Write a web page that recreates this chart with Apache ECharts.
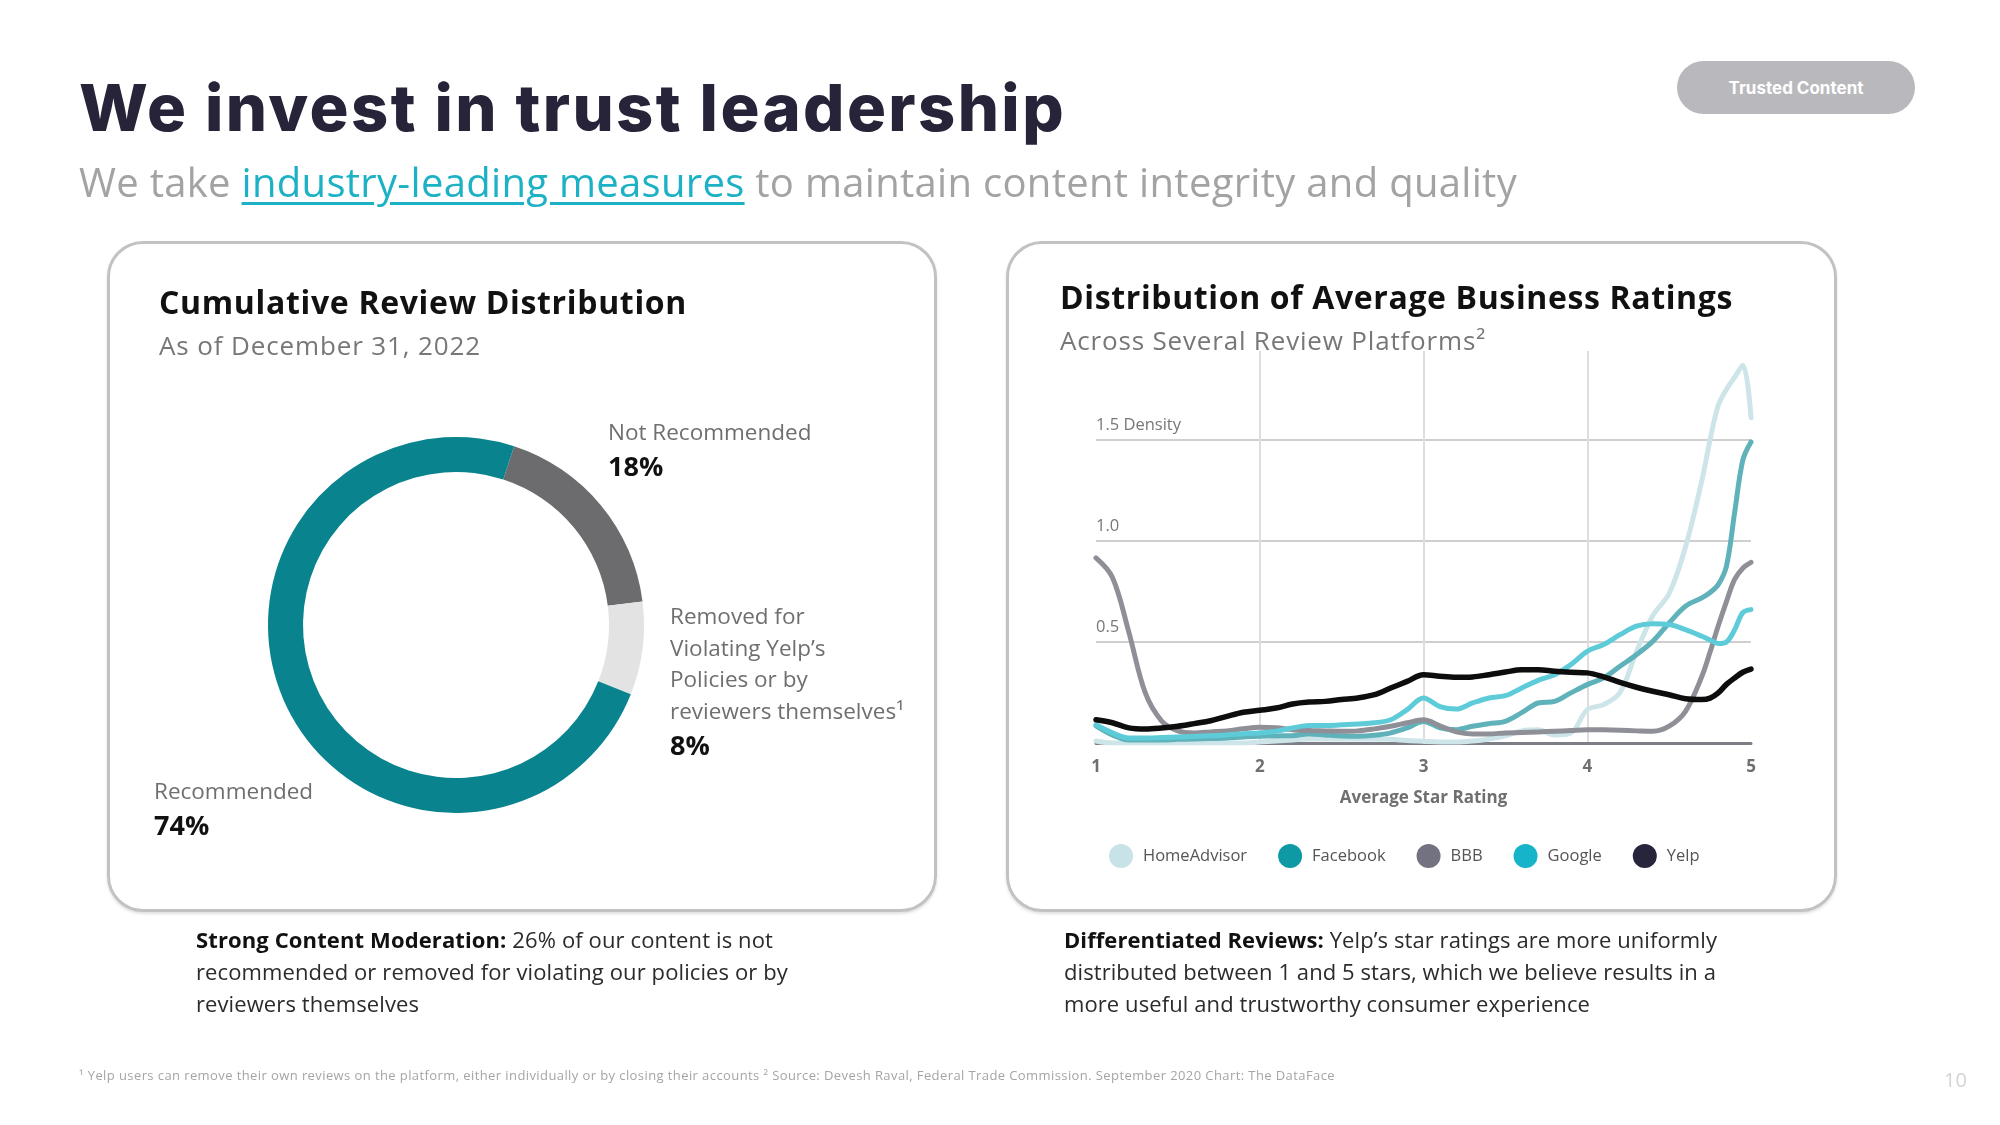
<!DOCTYPE html>
<html><head><meta charset="utf-8">
<script src="https://cdn.jsdelivr.net/npm/echarts@6/dist/echarts.min.js"></script>
<style>
html,body{margin:0;padding:0;background:#fff;}
#page{position:relative;width:2000px;height:1125px;overflow:hidden;font-family:'Open Sans',sans-serif;}
.abs{position:absolute;white-space:nowrap;z-index:2;}
.panel{position:absolute;border:3px solid #c2c2c2;border-radius:36px;box-sizing:border-box;box-shadow:0 2px 3px rgba(0,0,0,0.12);z-index:0;}
#chart{position:absolute;left:0;top:0;width:2000px;height:1125px;z-index:1;}
.cap{font-size:22px;line-height:22px;color:#2b2b2b;}
.cap b{font-weight:700;color:#111;}
</style></head>
<body><div id="page">
<div class="panel" style="left:107px;top:241px;width:830px;height:671px"></div>
<div class="panel" style="left:1006px;top:241px;width:831px;height:671px"></div>
<div id="chart"></div>

<div class="abs" data-w="987" style="left:79px;top:75px;font-family:Inter,sans-serif;font-weight:800;font-size:65px;line-height:65px;color:#27243a">We invest in trust leadership</div>
<div class="abs" data-w="1438" style="left:79px;top:162px;font-size:40px;line-height:40px;color:#a3a3a3">We take <span style="color:#1db1c5;text-decoration:underline;text-decoration-thickness:3px;text-underline-offset:5px">industry-leading measures</span> to maintain content integrity and quality</div>
<div class="abs" style="left:1677px;top:61px;width:238px;height:53px;border-radius:27px;background:#b9b9bd;color:#fff;font-family:Inter,sans-serif;font-weight:700;font-size:17px;display:flex;align-items:center;justify-content:center;z-index:2">Trusted Content</div>

<div class="abs" data-w="528" style="left:159px;top:286px;font-size:32px;line-height:32px;font-weight:700;color:#111">Cumulative Review Distribution</div>
<div class="abs" data-w="322" style="left:159px;top:332px;font-size:26px;line-height:26px;color:#777">As of December 31, 2022</div>
<div class="abs" data-w="673" style="left:1060px;top:281px;font-size:32px;line-height:32px;font-weight:700;color:#111">Distribution of Average Business Ratings</div>
<div class="abs" data-w="426" style="left:1060px;top:327px;font-size:26px;line-height:26px;color:#777">Across Several Review Platforms²</div>

<div class="abs cap" data-w="577" style="left:196px;top:928px"><b>Strong Content Moderation:</b> 26% of our content is not</div>
<div class="abs cap" data-w="592" style="left:196px;top:960px">recommended or removed for violating our policies or by</div>
<div class="abs cap" data-w="223" style="left:196px;top:992px">reviewers themselves</div>
<div class="abs cap" data-w="653" style="left:1064px;top:928px"><b>Differentiated Reviews:</b> Yelp’s star ratings are more uniformly</div>
<div class="abs cap" data-w="652" style="left:1064px;top:960px">distributed between 1 and 5 stars, which we believe results in a</div>
<div class="abs cap" data-w="526" style="left:1064px;top:992px">more useful and trustworthy consumer experience</div>

<div class="abs" data-w="1256" style="left:79px;top:1069px;font-size:13px;line-height:13px;color:#a5a5a5">¹ Yelp users can remove their own reviews on the platform, either individually or by closing their accounts ² Source: Devesh Raval, Federal Trade Commission. September 2020 Chart: The DataFace</div>
<div class="abs" style="left:1944px;top:1070px;font-size:20px;line-height:20px;color:#d3d3d3">10</div>
</div>
<script>
// ---- Donut data ----
const reviewCategories = ['Not Recommended', 'Removed for\nViolating Yelp’s\nPolicies or by\nreviewers themselves¹', 'Recommended'];
const reviewShares = [18, 8, 74];

// ---- Density data ----
const ratings = [1.0,1.1,1.2,1.3,1.4,1.5,1.6,1.7,1.8,1.9,2.0,2.1,2.2,2.3,2.4,2.5,2.6,2.7,2.8,2.9,3.0,3.1,3.2,3.3,3.4,3.5,3.6,3.7,3.8,3.9,4.0,4.1,4.2,4.3,4.4,4.5,4.6,4.7,4.75,4.8,4.85,4.9,4.95,5.0];
const platforms = ['HomeAdvisor', 'Facebook', 'BBB', 'Google', 'Yelp'];
const homeAdvisor = [0.01,0,0,0,0,0,0,0,0,0, 0.005,0.01,0.015,0.02,0.02,0.02,0.02,0.02,0.018,0.012, 0.008,0.005,0.005,0.01,0.02,0.035,0.06,0.065,0.04,0.05, 0.165,0.19,0.25,0.45,0.63,0.74,0.97,1.30, 1.50,1.67,1.75,1.81,1.87,1.61];
const facebook = [0.085,0.04,0.015,0.015,0.015,0.018,0.02,0.022,0.025,0.03, 0.033,0.035,0.036,0.045,0.04,0.035,0.033,0.038,0.05,0.075, 0.107,0.075,0.066,0.083,0.096,0.107,0.15,0.198,0.206,0.248, 0.289,0.322,0.38,0.437,0.503,0.594,0.677,0.718, 0.745,0.784,0.875,1.14,1.40,1.49];
const bbb = [0.916,0.82,0.55,0.25,0.11,0.06,0.05,0.055,0.06,0.07, 0.078,0.075,0.066,0.062,0.06,0.058,0.06,0.07,0.083,0.1, 0.115,0.085,0.055,0.045,0.045,0.05,0.052,0.055,0.058,0.062, 0.066,0.065,0.063,0.06,0.058,0.083,0.157,0.33, 0.45,0.58,0.70,0.81,0.865,0.894];
const google = [0.09,0.05,0.025,0.025,0.027,0.03,0.033,0.036,0.04,0.046, 0.05,0.058,0.074,0.086,0.086,0.09,0.094,0.1,0.115,0.165, 0.223,0.18,0.168,0.198,0.223,0.234,0.272,0.31,0.338,0.388, 0.454,0.487,0.536,0.578,0.59,0.586,0.561,0.528, 0.51,0.492,0.50,0.56,0.645,0.66];
const yelp = [0.115,0.1,0.075,0.069,0.074,0.083,0.096,0.11,0.132,0.152, 0.162,0.173,0.193,0.203,0.206,0.215,0.223,0.239,0.272,0.305, 0.338,0.33,0.325,0.327,0.338,0.351,0.363,0.363,0.355,0.35, 0.347,0.327,0.30,0.276,0.256,0.239,0.219,0.215, 0.222,0.248,0.29,0.322,0.35,0.366];
const xTicks = [1, 2, 3, 4, 5];
const yTickValues = [0.5, 1.0, 1.5];
const yTickLabels = ['0.5', '1.0', '1.5 Density'];

// ---- styles ----
const pieColors = ['#6c6c6e', '#e3e3e3', '#09838d'];
const legendColors = ['#c8e3e7', '#0f99a4', '#737280', '#16b4c9', '#27253c'];
const lineColors = ['#cde5e8', '#5fb2b9', '#8f8f98', '#5ecbd8', '#0d0d0d'];
const lineWidths = [5, 5, 5, 5, 5.5];
const labelPos = [[608, 418], [670, 602], [154, 777]];
const seriesValues = [homeAdvisor, facebook, bbb, google, yelp];

const chart = echarts.init(document.getElementById('chart'), null, {renderer: 'canvas', width: 2000, height: 1125});
const FONT = 'Open Sans';

const lineSeries = platforms.map((name, k) => ({
  name: name,
  type: 'line',
  smooth: 0.35,
  symbol: 'none',
  showSymbol: false,
  data: ratings.map((x, i) => [x, seriesValues[k][i]]),
  itemStyle: {color: legendColors[k]},
  lineStyle: {color: lineColors[k], width: lineWidths[k], cap: 'round', join: 'round'},
  z: 3 + k
}));

chart.setOption({
  backgroundColor: 'transparent',
  animation: false,
  textStyle: {fontFamily: FONT},
  grid: {left: 1096, right: 249, top: 351, bottom: 382, containLabel: false},
  xAxis: {
    type: 'value', min: 1, max: 5, interval: 1,
    axisLine: {show: true, lineStyle: {color: '#7e7e86', width: 3}},
    axisTick: {show: false},
    splitLine: {show: true, showMinLine: false, showMaxLine: false, lineStyle: {color: '#dedede', width: 2}},
    axisLabel: {fontFamily: FONT, fontWeight: 'bold', fontSize: 17, color: '#6f6f6f', margin: 16,
      formatter: v => (xTicks.indexOf(v) >= 0 ? String(v) : '')},
    name: 'Average Star Rating', nameLocation: 'middle', nameGap: 47,
    nameTextStyle: {fontFamily: FONT, fontWeight: 'bold', fontSize: 17, color: '#6f6f6f'}
  },
  yAxis: {
    type: 'value', min: 0, max: 1.94, interval: 0.5,
    axisLine: {show: false}, axisTick: {show: false},
    splitLine: {show: true, showMinLine: false, showMaxLine: false, lineStyle: {color: '#cfcfcf', width: 2}},
    axisLabel: {inside: true, margin: 0, fontFamily: FONT, fontSize: 16.5, color: '#777',
      verticalAlign: 'bottom', lineHeight: 20, padding: [0, 0, 5, 0],
      formatter: v => { const i = yTickValues.findIndex(t => Math.abs(t - v) < 1e-6); return i >= 0 ? yTickLabels[i] : ''; }}
  },
  legend: {
    data: platforms, left: 1109, top: 844, padding: 0, icon: 'circle', itemWidth: 24, itemHeight: 24, itemGap: 31,
    textStyle: {fontFamily: FONT, fontSize: 16.5, color: '#555', padding: [0, 0, 0, 5]}
  },
  series: [
    {
      type: 'pie', center: [456, 625], radius: [153, 188], startAngle: 72, clockwise: true,
      silent: true,
      data: reviewCategories.map((n, i) => ({name: n, value: reviewShares[i], itemStyle: {color: pieColors[i]}})),
      label: {
        show: true, position: 'outside',
        formatter: p => '{n|' + p.name + '}\n{v|' + p.value + '%}',
        rich: {
          n: {fontFamily: FONT, fontSize: 22.5, color: '#6f6f6f', lineHeight: 31.5},
          v: {fontFamily: FONT, fontSize: 27, fontWeight: 'bold', color: '#111', lineHeight: 38}
        }
      },
      labelLine: {show: false},
      labelLayout: p => ({x: labelPos[p.dataIndex][0], y: labelPos[p.dataIndex][1], align: 'left', verticalAlign: 'top'})
    }
  ].concat(lineSeries)
});

function fit() {
  document.querySelectorAll('[data-w]').forEach(el => {
    el.style.letterSpacing = '0px';
    const w = el.getBoundingClientRect().width;
    const n = el.textContent.length;
    el.style.letterSpacing = ((+el.dataset.w - w) / n) + 'px';
  });
}
fit();
if (document.fonts && document.fonts.ready) document.fonts.ready.then(fit);
</script>
</body></html>
